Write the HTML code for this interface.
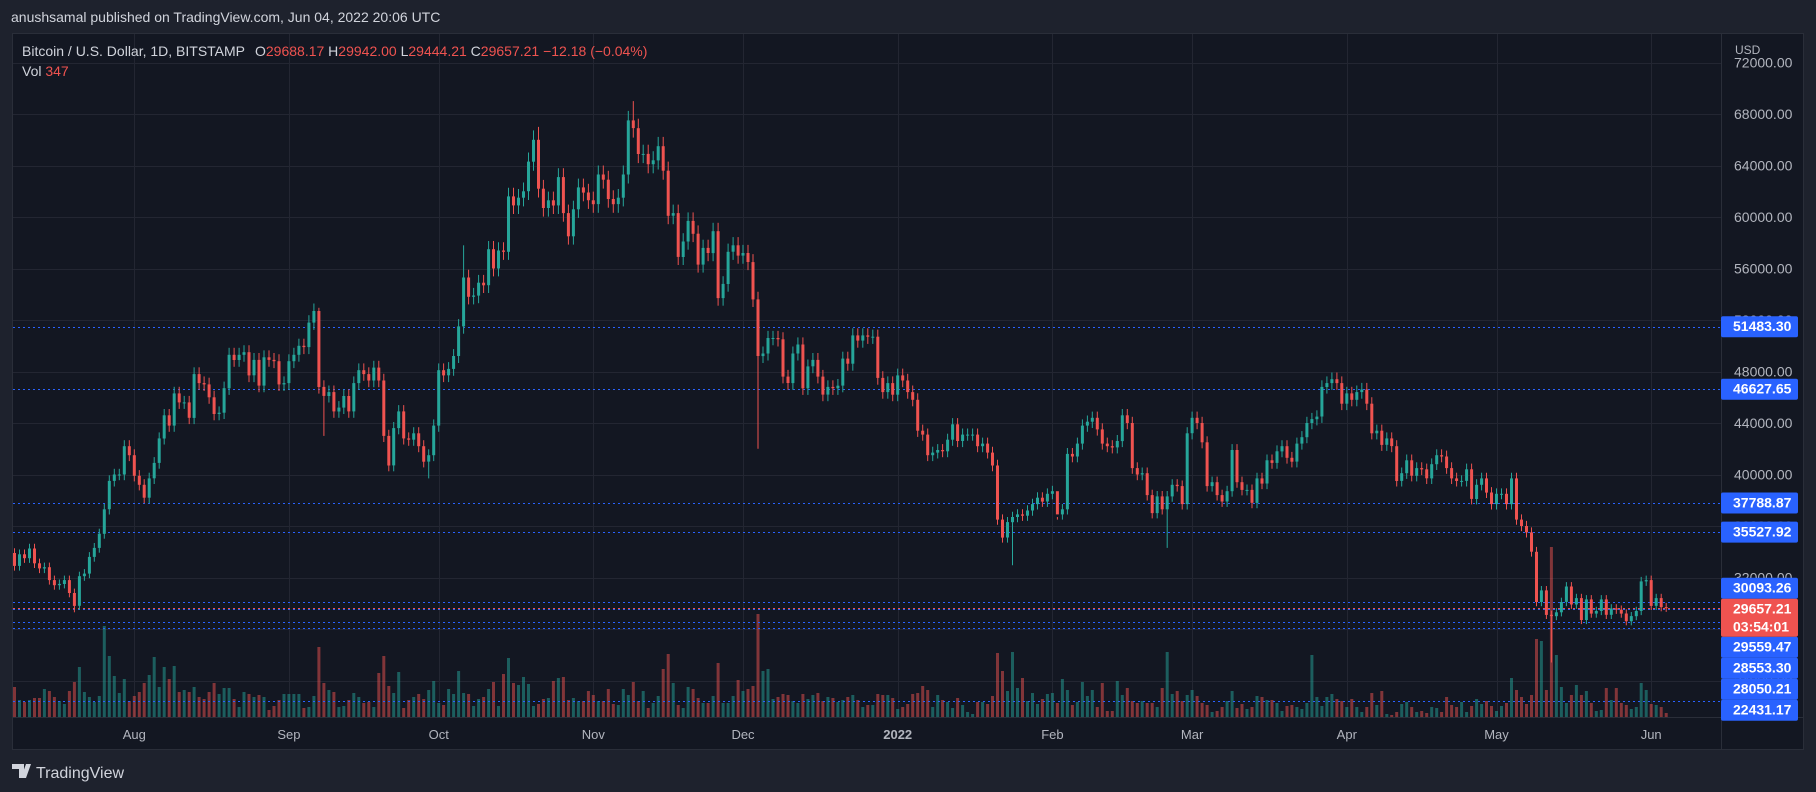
<!DOCTYPE html>
<html><head><meta charset="utf-8"><style>
html,body{margin:0;padding:0;background:#1e222d;width:1816px;height:792px;overflow:hidden}
svg{display:block}
text{font-family:"Liberation Sans",sans-serif}
</style></head><body>
<svg id="chart" width="1816" height="792" xmlns="http://www.w3.org/2000/svg">
<rect x="0" y="0" width="1816" height="792" fill="#1e222d"/>
<text x="11" y="22" fill="#d1d4dc" font-size="14">anushsamal published on TradingView.com, Jun 04, 2022 20:06 UTC</text>
<rect x="12.5" y="33.5" width="1791" height="716" fill="#131722" stroke="#2a2e39"/>
<g id="grid"></g>
<g id="vol"></g>
<g id="levels"></g>
<g id="candles"></g>
<rect x="1721" y="34" width="82" height="715" fill="#131722"/>
<line x1="1721.5" y1="34" x2="1721.5" y2="749" stroke="#2a2e39"/>
<line x1="13" y1="717.5" x2="1803" y2="717.5" stroke="#2a2e39"/>
<rect x="13" y="718" width="1708" height="31" fill="#131722"/>
<text x="1735" y="54" fill="#b2b5be" font-size="12">USD</text>
<g id="yaxis"></g>
<g id="xaxis"></g>
<g id="boxes"></g>
<g font-size="14">
<text x="22" y="56" fill="#d1d4dc">Bitcoin / U.S. Dollar, 1D, BITSTAMP</text>
<text x="255" y="56" fill="#d1d4dc">O<tspan fill="#ef5350">29688.17</tspan>  H<tspan fill="#ef5350">29942.00</tspan>  L<tspan fill="#ef5350">29444.21</tspan>  C<tspan fill="#ef5350">29657.21</tspan>  <tspan fill="#ef5350">−12.18 (−0.04%)</tspan></text>
<text x="22" y="76" fill="#d1d4dc">Vol  <tspan fill="#ef5350">347</tspan></text>
</g>
<g>
<path d="M12 764h12v14h-5v-9h-7z M26 764h5l-5 14h-5z" fill="#d1d4dc"/>
<text x="36" y="778" fill="#d1d4dc" font-size="16">TradingView</text>
</g>
</svg>
<script>
const prevClose0 = 33900;
const closes = [
32900,33800,33500,34250,33100,32700,32800,31800,31400,31500,31800,30800,29800,32100,32300,33600,34300,35400,37300,39500,40000,40000,42200,41500,
39900,39200,38200,39700,40900,42800,44600,43800,46300,45600,45600,44400,47800,47100,47000,46000,44700,44800,46700,49300,48900,49300,49500,47700,48900,46900,49100,48900,48800,47000,47100,
48800,49300,50000,49900,51800,52700,46800,46100,46400,44900,45200,46100,44900,47100,48100,47800,47300,48300,47300,43000,40700,43600,44900,42800,42700,43200,42200,41000,41500,43800,
48100,47700,48200,49200,51500,55300,53800,53900,54900,54700,57500,56000,57400,57300,61600,60900,61500,62000,64300,66000,62200,60700,61300,60900,63100,60300,58500,60600,62300,61900,61300,
61000,63300,62900,61400,61000,61500,63300,67500,66900,64900,64900,64100,64400,65500,63600,60100,60300,56900,58100,59700,58700,56300,57600,57200,58900,53700,54800,57300,57800,57000,
57200,56500,53600,49200,49400,50600,50600,50500,47600,47100,49400,50100,46700,48400,48900,47600,46200,46800,46700,46900,49000,48600,50800,50400,50800,50700,50700,47500,46400,47100,46200,
47700,47300,46400,45800,43400,43100,41500,41700,41900,41800,42700,43900,42600,43100,43100,43100,42200,42400,41700,40700,36500,35100,36300,36700,36900,36800,37200,37700,38200,37900,38500,
38700,36900,37300,41600,41400,42400,43800,44100,44400,43500,42400,42200,42100,42600,44600,44000,40500,40000,40100,38400,37000,38300,37300,38300,39200,39100,37700,43200,
44400,44000,42500,39100,39400,38400,37900,38700,41900,39400,38800,38800,37800,39700,39300,41100,40900,41800,42200,41300,41000,42400,42900,44000,44300,44500,46800,47100,47400,47100,45500,
46300,45800,46400,46600,45500,43200,43400,42300,42800,42200,39500,40100,41100,39900,40500,40400,39700,40800,41500,41400,40500,39700,39500,39500,40400,38100,39200,39700,38600,37700,
38500,38500,37700,39700,36500,36000,35500,34000,30100,31000,29100,29000,29300,30100,31300,29900,30400,28700,30300,29200,29400,30300,29100,29600,29500,29200,28600,29000,29400,31700,31800,
29800,30400,29700,29657];
const volumes = [
30,17,15,17,19,19,28,26,20,16,13,26,35,50,25,20,15,21,91,61,41,24,38,16,21,25,34,42,60,30,
50,38,51,25,27,25,30,20,18,25,34,23,29,29,18,10,25,23,20,22,20,7,11,17,23,23,23,23,9,10,
21,70,34,27,25,10,11,17,24,20,14,15,10,44,61,31,24,45,9,17,20,23,18,27,36,14,12,28,23,46,
24,23,11,18,20,28,35,11,43,59,34,32,40,33,11,13,18,19,36,39,40,17,19,16,16,26,22,16,16,28,
13,12,28,22,35,16,26,9,14,21,48,63,34,12,9,30,28,19,14,14,21,54,14,14,21,37,26,28,31,103,
46,48,18,20,23,22,16,14,23,18,22,24,16,20,19,15,17,20,22,17,
10,12,12,23,22,22,19,
8,10,13,23,24,31,27,10,22,17,15,9,19,12,5,3,15,15,13,21,64,46,26,65,29,39,16,24,13,18,23,
24,14,38,27,12,15,35,21,27,10,34,6,6,36,22,29,16,14,16,14,14,10,29,65,23,26,16,22,
27,21,14,12,5,6,10,16,26,9,13,8,10,21,20,17,17,14,6,11,12,10,8,14,62,20,11,20,23,18,16,
10,18,10,5,10,24,12,26,3,2,5,13,15,10,5,6,4,10,9,5,20,12,10,15,5,11,18,13,16,11,
6,11,14,39,27,20,13,22,78,76,27,170,62,30,14,22,32,22,26,14,6,7,29,17,29,14,12,8,10,34,27,
13,12,10,4];
const highIdx = [90, 124, 61, 105, 209];
const highVal = [57800, 69000, 52950, 67000, 36700];
const lowIdx = [149, 308, 200, 231, 62, 12, 83];
const lowVal = [42000, 25400, 32950, 34300, 43000, 29300, 39700];
const priceTicks = [72000,68000,64000,60000,56000,52000,48000,44000,40000,36000,32000,28000,24000];
const monthLabels = ['Aug','Sep','Oct','Nov','Dec','2022','Feb','Mar','Apr','May','Jun'];
const monthIdx = [24,55,85,116,146,177,208,236,267,297,328];
const levelPrices = [51483.30,46627.65,37788.87,35527.92,30093.26,29559.47,28553.30,28050.21,22431.17];
const lastPrice = 29657.21;
const countdown = '03:54:01';

const NS='http://www.w3.org/2000/svg';
const X0=14.5, STEP=4.99, PANE_L=13, PANE_R=1721, VOL_BASE=717;
function xOf(i){return X0+i*STEP;}
function yOf(p){return 114+(68000-p)*0.012875;}
function volH(v){return v;}
function mk(tag,attrs,parent){const e=document.createElementNS(NS,tag);for(const k in attrs)e.setAttribute(k,attrs[k]);parent.appendChild(e);return e;}

const grid=document.getElementById('grid');
priceTicks.forEach(p=>{const y=Math.round(yOf(p))+0.5;if(y>34&&y<717){
 const l=mk('line',{x1:PANE_L,x2:PANE_R,y1:y,y2:y,stroke:'#232632'},grid);
 
 }});
monthIdx.forEach(i=>{const x=Math.round(xOf(i))+0.5;
 const l=mk('line',{x1:x,x2:x,y1:34,y2:717,stroke:'#232632'},grid);
 
 });

const volG=document.getElementById('vol'), cG=document.getElementById('candles');
let prev=prevClose0;
closes.forEach((c,i)=>{
 const o=prev; prev=c;
 const up=c>=o; const col=up?'#26a69a':'#ef5350';
 let hi=Math.max(o,c)*1.011, lo=Math.min(o,c)*0.989;
 const hk=highIdx.indexOf(i); if(hk>=0) hi=highVal[hk];
 const lk=lowIdx.indexOf(i); if(lk>=0) lo=lowVal[lk];
 const x=xOf(i);
 const h=volH(volumes[i]);
 const vb=mk('rect',{x:(x-1.5).toFixed(1),y:(VOL_BASE-h).toFixed(1),width:3,height:h.toFixed(1),fill:col,'fill-opacity':0.5},volG);
 
 
 const w=mk('line',{x1:x.toFixed(1),x2:x.toFixed(1),y1:yOf(hi).toFixed(1),y2:yOf(lo).toFixed(1),stroke:col,'stroke-width':1},cG);
 
 
 const yt=yOf(Math.max(o,c)), yb=yOf(Math.min(o,c));
 const b=mk('rect',{x:(x-1.5).toFixed(1),y:yt.toFixed(1),width:3,height:Math.max(1,yb-yt).toFixed(1),fill:col},cG);
 
 
});

const lv=document.getElementById('levels');
levelPrices.forEach(p=>{const y=Math.round(yOf(p))+0.5;
 const l=mk('line',{x1:PANE_L,x2:PANE_R,y1:y,y2:y,stroke:'#2962ff','stroke-dasharray':'2 3'},lv);
 
 });
{const y=Math.round(yOf(lastPrice))+0.5;
 const l=mk('line',{x1:PANE_L,x2:PANE_R,y1:y,y2:y,stroke:'#ef5350','stroke-dasharray':'2 3'},lv);
 
 }

const ya=document.getElementById('yaxis');
priceTicks.forEach(p=>{const y=yOf(p);if(y>40&&y<712){
 const t=mk('text',{x:1734,y:(y+5).toFixed(1),fill:'#b2b5be','font-size':14},ya);
 t.textContent=p.toFixed(2);
 
 }});

const xa=document.getElementById('xaxis');
monthLabels.forEach((m,k)=>{
 const t=mk('text',{x:xOf(monthIdx[k]).toFixed(1),y:739,fill:'#b2b5be','font-size':13,'text-anchor':'middle','font-weight':m==='2022'?'bold':'normal'},xa);
 t.textContent=m;
 
 });

const bx=document.getElementById('boxes');
const ly=yOf(lastPrice); const curTop=ly-9, curBot=ly+29;
function box(y0,h,fill,lines,name){
 const r=mk('rect',{x:1721,y:y0.toFixed(1),width:77,height:h,rx:2,fill:fill},bx);
 
 
 lines.forEach((s,j)=>{const t=mk('text',{x:1733,y:(y0+15+j*18).toFixed(1),fill:'#ffffff','font-size':14,'font-weight':'bold'},bx);
  t.textContent=s;
  
  });
}
let above=levelPrices.filter(p=>p>lastPrice).sort((a,b)=>a-b);
let below=levelPrices.filter(p=>p<=lastPrice).sort((a,b)=>b-a);
let limit=curTop;
above.forEach(p=>{let c=yOf(p);let top=Math.min(c-10.5,limit-21);box(top,21,'#2962ff',[p.toFixed(2)],'level-price-label');limit=top;});
limit=curBot;
below.forEach(p=>{let c=yOf(p);let top=Math.max(c-10.5,limit);box(top,21,'#2962ff',[p.toFixed(2)],'level-price-label');limit=top+21;});
box(curTop,38,'#ef5350',[lastPrice.toFixed(2),countdown],'last-price-label');
</script>
</body></html>
